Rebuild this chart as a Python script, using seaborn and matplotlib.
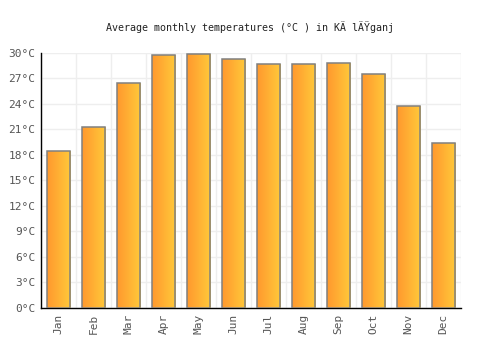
# Average monthly temperatures bar chart
import numpy as np
import pandas as pd
import matplotlib
matplotlib.use('Agg')
import matplotlib.pyplot as plt
import seaborn as sns
from matplotlib.colors import LinearSegmentedColormap

# Data
months = ['Jan', 'Feb', 'Mar', 'Apr', 'May', 'Jun', 'Jul', 'Aug', 'Sep', 'Oct', 'Nov', 'Dec']
temps = [18.5, 21.3, 26.4, 29.8, 29.9, 29.3, 28.7, 28.7, 28.8, 27.5, 23.8, 19.4]
yticks = [0, 3, 6, 9, 12, 15, 18, 21, 24, 27, 30]

df = pd.DataFrame({'month': months, 'temp': temps})

sns.set_style('white')
plt.rcParams['font.family'] = ['DejaVu Sans Mono']

fig = plt.figure(figsize=(5, 3.5), dpi=100)
ax = fig.add_axes([0.082, 0.12, 0.84, 0.729])

sns.barplot(x='month', y='temp', data=df, ax=ax, width=0.66,
            color='#ffb030', edgecolor='#808080', linewidth=1.1, zorder=3)

# Gradient fill on each bar
cmap = LinearSegmentedColormap.from_list('orange', ['#ff992e', '#ffc93a'])
grad = np.linspace(0, 1, 64).reshape(1, -1)
for bar in ax.patches:
    x0, y0 = bar.get_x(), bar.get_y()
    w, h = bar.get_width(), bar.get_height()
    im = ax.imshow(grad, cmap=cmap, aspect='auto', extent=[x0, x0 + w, y0, y0 + h],
                   zorder=3.5, interpolation='bicubic')
    im.set_clip_path(bar)
    bar.set_facecolor('none')
    bar.set_zorder(4)

ax.set_xlim(-0.5, len(months) - 0.5)
ax.set_ylim(0, 30)
ax.set_yticks(yticks)
ax.set_yticklabels([f'{t}°C' for t in yticks])
ax.set_xticks(np.arange(-0.5, len(months), 1), minor=True)
ax.tick_params(axis='x', rotation=90)
ax.tick_params(axis='both', which='both', length=0, labelsize=8, labelcolor='#555555', pad=4)
ax.grid(axis='y', color='#eeeeee', linewidth=1, zorder=0)
ax.grid(axis='x', which='minor', color='#eeeeee', linewidth=1, zorder=0)
ax.set_axisbelow(True)
ax.set_xlabel('')
ax.set_ylabel('')

for s in ['top', 'right']:
    ax.spines[s].set_visible(False)
for s in ['left', 'bottom']:
    ax.spines[s].set_color('black')
    ax.spines[s].set_linewidth(1)

fig.text(0.5, 0.922, 'Average monthly temperatures (°C ) in KÄ lÄŸganj',
         ha='center', va='center', fontsize=7.2, color='#222222')

fig.savefig('out.png', dpi=100)
